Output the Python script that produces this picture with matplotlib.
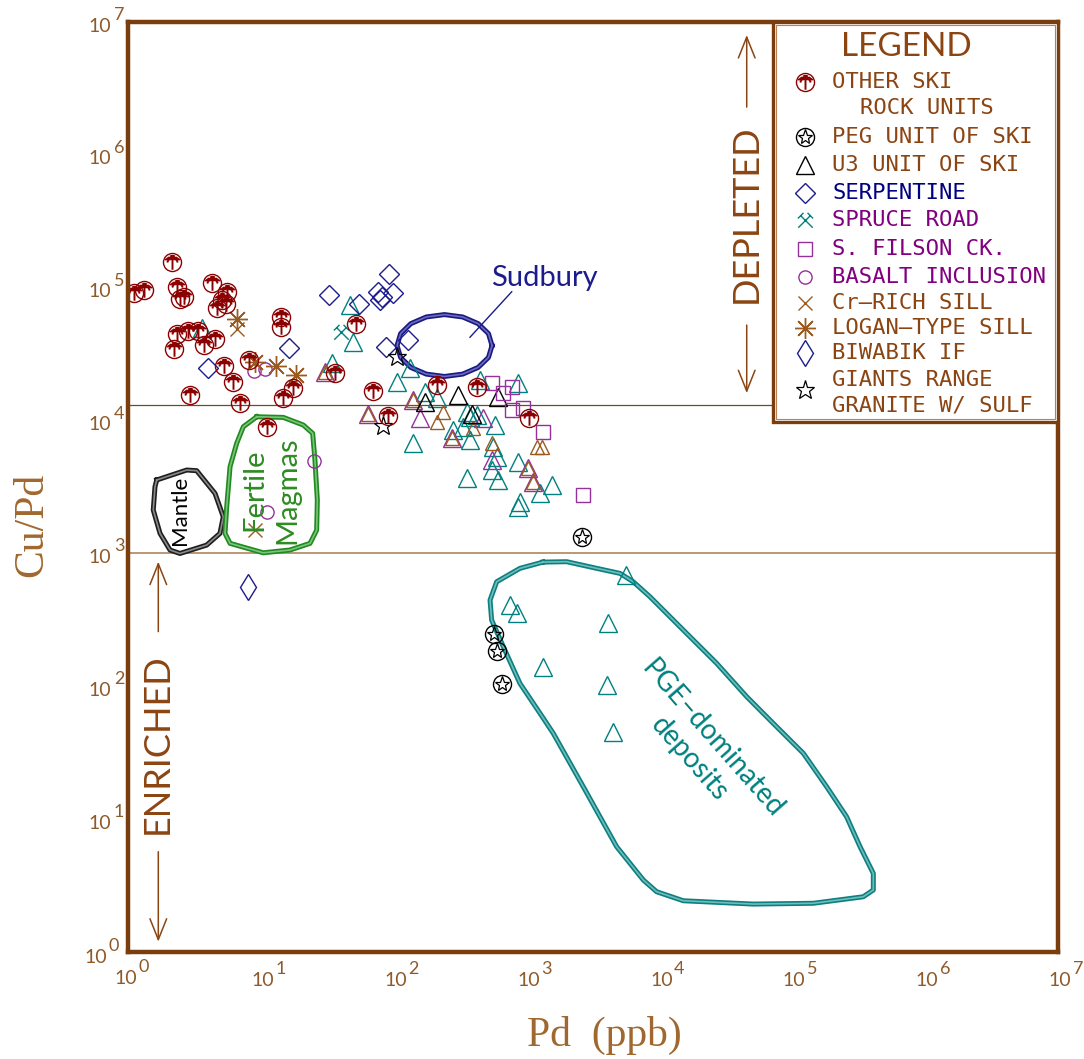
import numpy as np
import matplotlib
matplotlib.use("Agg")
import matplotlib.pyplot as plt
from matplotlib.path import Path
from matplotlib.patches import Rectangle

# -------------------------
# DATA  (Pd in ppb, Cu/Pd ratio)
# -------------------------
other_ski_pd = [2.13, 1.11, 1.32, 2.33, 2.46, 2.64, 4.27, 5.53, 4.70, 5.47, 5.10, 2.33,
                2.84, 3.38, 2.23, 3.75, 4.52, 14.2, 14.2, 8.19, 5.28, 6.21, 2.93, 6.97,
                14.6, 17.5, 36.1, 11.1, 52.0, 69.5, 91.0, 211, 422, 1050]
other_ski_cupd = [1.57e5, 9.08e4, 9.6e4, 1.01e5, 8.2e4, 8.5e4, 1.09e5, 9.3e4, 7.0e4, 7.6e4,
                  8.1e4, 4.49e4, 4.75e4, 4.75e4, 3.44e4, 3.71e4, 4.11e4, 5.99e4, 5.04e4,
                  2.86e4, 2.58e4, 1.96e4, 1.56e4, 1.35e4, 1.47e4, 1.75e4, 2.29e4, 9.0e3,
                  5.33e4, 1.68e4, 1.09e4, 1.85e4, 1.80e4, 1.04e4]

peg_pd = [2600, 571, 596, 650]
peg_cupd = [1336, 247, 185, 104]

u3_pd = [172, 306, 613, 386]
u3_cupd = [1.39e4, 1.56e4, 1.51e4, 1.13e4]

serp_pd = [32.6, 16.3, 4.02, 92.6, 55.1, 76.6, 81.2, 98.2, 78.9, 87.5, 129]
serp_cupd = [8.8e4, 3.50e4, 2.50e4, 1.27e5, 7.54e4, 9.3e4, 8.56e4, 9.18e4, 8.09e4, 3.56e4, 4.04e4]

spruce_pd = [39.9]
spruce_cupd = [4.67e4]

teal_tri_pd = [46.9, 49.6, 34.1, 105, 133, 172, 211, 446, 867, 354, 375, 421, 281, 334, 375,
               578, 140, 562, 596, 546, 354, 613, 867, 1262, 1545, 892, 867, 3.59,
               5574, 750, 841, 4124, 1336, 4009, 4498]
teal_tri_cupd = [7.41e4, 3.92e4, 2.70e4, 1.96e4, 2.47e4, 1.65e4, 1.47e4, 2.02e4, 1.91e4,
                 1.17e4, 1.07e4, 1.10e4, 8.49e3, 9.0e3, 7.14e3, 9.26e3, 6.75e3, 6.36e3,
                 5.35e3, 4.25e3, 3.68e3, 3.57e3, 4.90e3, 2.84e3, 3.27e3, 2.45e3, 2.25e3,
                 4.95e4, 689, 409, 354, 298, 140, 102, 45.5]

purple_tri_pd = [30.4, 64.4, 140, 158, 273, 472, 546, 1030, 1124]
purple_tri_cupd = [2.33e4, 1.13e4, 1.43e4, 1.04e4, 7.36e3, 1.04e4, 5.05e3, 4.37e3, 3.47e3]

brown_tri_pd = [30.4, 64.4, 140, 273, 1030, 1124, 211, 546, 236, 1192, 1300, 397]
brown_tri_cupd = [2.33e4, 1.13e4, 1.43e4, 7.36e3, 4.37e3, 3.47e3, 9.81e3, 6.75e3,
                  1.17e4, 6.36e3, 6.36e3, 8.75e3]

filson_pd = [546, 773, 668, 773, 945, 1322, 2644]
filson_cupd = [1.91e4, 1.78e4, 1.60e4, 1.20e4, 1.24e4, 8.25e3, 2.75e3]

basalt_pd = [8.93, 10.7, 25.1, 11.2]
basalt_cupd = [2.37e4, 2.43e4, 4.99e3, 2.04e3]

crsill_pd = [6.58, 9.03]
crsill_cupd = [4.86e4, 1.50e3]

logan_pd = [6.65, 9.03, 13.0, 18.3]
logan_cupd = [5.78e4, 2.77e4, 2.58e4, 2.20e4]

biwabik_pd = [8.04]
biwabik_cupd = [562]

giants_pd = [105, 82.6]
giants_cupd = [3.03e4, 9.15e3]

# reference levels of Cu/Pd
upper_ref = 1.3e4
lower_ref = 1.0e3

# field outlines (log10 Pd, log10 Cu/Pd)
mantle_lx = [0.216, 0.442, 0.517, 0.655, 0.717, 0.692, 0.592, 0.391, 0.316, 0.241, 0.190, 0.203]
mantle_ly = [3.553, 3.628, 3.623, 3.452, 3.276, 3.151, 3.063, 3.000, 3.026, 3.151, 3.327, 3.502]

fertile_lx = [0.969, 1.169, 1.319, 1.390, 1.407, 1.425, 1.420, 1.370, 1.219, 1.018, 0.768,
              0.730, 0.743, 0.768, 0.818, 0.868]
fertile_ly = [4.029, 4.024, 3.967, 3.904, 3.703, 3.402, 3.176, 3.076, 3.026, 3.005, 3.076,
              3.151, 3.352, 3.653, 3.829, 3.954]

sudbury_lx = [2.740, 2.713, 2.635, 2.519, 2.382, 2.245, 2.129, 2.052, 2.025, 2.052, 2.129,
              2.245, 2.382, 2.519, 2.635, 2.713]
sudbury_ly = [4.565, 4.655, 4.730, 4.780, 4.798, 4.780, 4.730, 4.655, 4.565, 4.475, 4.400,
              4.350, 4.332, 4.350, 4.400, 4.475]

pge_lx = [3.124, 3.302, 3.528, 3.703, 3.803, 3.929, 4.155, 4.431, 4.657, 4.857, 5.083, 5.259,
          5.409, 5.510, 5.610, 5.610, 5.534, 5.158, 4.706, 4.180, 3.979, 3.879, 3.678, 3.427,
          3.201, 3.101, 2.950, 2.825, 2.737, 2.725, 2.775, 2.950]
pge_ly = [2.935, 2.938, 2.888, 2.850, 2.787, 2.674, 2.448, 2.173, 1.922, 1.721, 1.496, 1.244,
          1.018, 0.793, 0.592, 0.467, 0.416, 0.367, 0.361, 0.386, 0.454, 0.542, 0.793, 1.244,
          1.646, 1.797, 2.022, 2.298, 2.499, 2.649, 2.787, 2.888]

decades = [0, 1, 2, 3, 4, 5, 6, 7]

legend_labels = ["OTHER SKI", "PEG UNIT OF SKI", "U3 UNIT OF SKI", "SERPENTINE",
                 "SPRUCE ROAD", "S. FILSON CK.", "BASALT INCLUSION", "Cr\u2013RICH SILL",
                 "LOGAN\u2013TYPE SILL", "BIWABIK IF", "GIANTS RANGE"]

# -------------------------
# COLOURS / MARKERS
# -------------------------
BROWN = "#8B4513"
FRAME = "#7A3E0E"
TICKC = "#8E5A2A"
LABELC = "#A0682F"
MAROON = "#8B0000"
NAVY = "#1C1C8C"
TEAL = "#008080"
PURPLE = "#96309A"
PURPLE_TXT = "#800080"
GREEN = "#2E8B22"

palm = Path(
    [(0, -0.9), (0, 0.4),
     (0, 0.45), (-0.45, 0.62), (-0.9, 0.3),
     (0, 0.45), (0.45, 0.62), (0.9, 0.3),
     (0, 0.45), (-0.5, 0.35), (-0.65, 0.0),
     (0, 0.45), (0.5, 0.35), (0.65, 0.0),
     (0, 0.45), (-0.25, 0.9),
     (0, 0.45), (0.25, 0.9),
     (0, 0.45), (0, 0.95)],
    [Path.MOVETO, Path.LINETO,
     Path.MOVETO, Path.LINETO, Path.LINETO,
     Path.MOVETO, Path.LINETO, Path.LINETO,
     Path.MOVETO, Path.LINETO, Path.LINETO,
     Path.MOVETO, Path.LINETO, Path.LINETO,
     Path.MOVETO, Path.LINETO,
     Path.MOVETO, Path.LINETO,
     Path.MOVETO, Path.LINETO])

hammers = Path(
    [(-0.9, -0.9), (0.6, 0.6), (0.25, 0.95), (0.95, 0.25),
     (0.9, -0.9), (-0.6, 0.6), (-0.25, 0.95), (-0.95, 0.25)],
    [Path.MOVETO, Path.LINETO, Path.MOVETO, Path.LINETO,
     Path.MOVETO, Path.LINETO, Path.MOVETO, Path.LINETO])

SANS = ["Lato", "DejaVu Sans"]
MONO = ["DejaVu Sans Mono"]
SERIF = ["Liberation Serif", "DejaVu Serif"]


def draw_palm(ax, x, y, **kw):
    ax.plot(x, y, ls="none", marker="o", ms=13, mfc="none", mec=MAROON, mew=1.0, **kw)
    ax.plot(x, y, ls="none", marker=palm, ms=11, mfc="none", mec=MAROON, mew=1.4, **kw)


def draw_peg(ax, x, y, **kw):
    ax.plot(x, y, ls="none", marker="o", ms=13, mfc="none", mec="black", mew=1.0, **kw)
    ax.plot(x, y, ls="none", marker="*", ms=11, mfc="none", mec="black", mew=0.9, **kw)


def draw_outline(ax, lx, ly, dark, light):
    xs = np.power(10.0, lx + lx[:1])
    ys = np.power(10.0, ly + ly[:1])
    ax.plot(xs, ys, color=dark, lw=3.6, solid_joinstyle="round", zorder=2)
    ax.plot(xs, ys, color=light, lw=1.2, solid_joinstyle="round", zorder=2)


fig = plt.figure(figsize=(10.84, 10.59), dpi=100)
ax = fig.add_axes([0.1181, 0.1010, 0.8579, 0.8782])
ax.set_xscale("log")
ax.set_yscale("log")
ax.set_xlim(1, 1e7)
ax.set_ylim(1, 1e7)
ax.set_xticks([])
ax.set_yticks([])
ax.minorticks_off()
ax.tick_params(which="both", length=0)
for sp in ax.spines.values():
    sp.set_color(FRAME)
    sp.set_linewidth(3.2)

# reference lines
ax.axhline(upper_ref, color="#6E4A2A", lw=0.9, zorder=1)
ax.axhline(lower_ref, color="#A87A50", lw=1.1, zorder=1)

# -------------------------
# FIELDS
# -------------------------
draw_outline(ax, mantle_lx, mantle_ly, "#1E1E1E", "#8A8A8A")
draw_outline(ax, fertile_lx, fertile_ly, "#1F8A1F", "#7CC47C")
draw_outline(ax, sudbury_lx, sudbury_ly, "#1A1A80", "#6A6AC0")
draw_outline(ax, pge_lx, pge_ly, "#0E7F7F", "#6FBDBD")

ax.text(2.46, 2123, "Mantle", rotation=90, ha="center", va="center", fontsize=16,
        color="black", family=SANS)
ax.text(11.9, 3000, "Fertile\nMagmas", rotation=90, ha="center", va="center", fontsize=21,
        color=GREEN, family=SANS, linespacing=1.35, multialignment="center")
ax.text(1352, 1.18e5, "Sudbury", ha="center", va="center", fontsize=21, color=NAVY,
        family=SANS)
ax.plot([773, 375], [9.33e4, 4.24e4], color=NAVY, lw=1.0)
ax.text(20560, 33.7, "PGE\u2013dominated\ndeposits", rotation=-48.7, rotation_mode="anchor",
        ha="center", va="center", fontsize=20, color=TEAL, family=SANS,
        linespacing=1.2, multialignment="center")

# -------------------------
# POINTS
# -------------------------
ax.plot(teal_tri_pd, teal_tri_cupd, ls="none", marker="^", ms=13, mfc="none", mec=TEAL, mew=1.0)
ax.plot(purple_tri_pd, purple_tri_cupd, ls="none", marker="^", ms=13, mfc="none", mec=PURPLE, mew=1.0)
ax.plot(brown_tri_pd, brown_tri_cupd, ls="none", marker="^", ms=10, mfc="none", mec="#9A5A20", mew=1.0)
ax.plot(u3_pd, u3_cupd, ls="none", marker="^", ms=13, mfc="none", mec="black", mew=1.0)
ax.plot(serp_pd, serp_cupd, ls="none", marker="D", ms=10, mfc="none", mec=NAVY, mew=1.0)
ax.plot(spruce_pd, spruce_cupd, ls="none", marker=hammers, ms=11, mfc="none", mec=TEAL, mew=1.0)
ax.plot(filson_pd, filson_cupd, ls="none", marker="s", ms=9.5, mfc="none", mec=PURPLE, mew=1.0)
ax.plot(basalt_pd, basalt_cupd, ls="none", marker="o", ms=9.5, mfc="none", mec=PURPLE, mew=1.0)
ax.plot(crsill_pd, crsill_cupd, ls="none", marker="x", ms=10, mfc="none", mec="#9A5A20", mew=1.0)
ax.plot(logan_pd, logan_cupd, ls="none", marker=(8, 2, 0), ms=15, mec="#9A5A20", mew=1.0)
ax.plot(biwabik_pd, biwabik_cupd, ls="none", marker="d", ms=13, mfc="none", mec=NAVY, mew=1.0)
ax.plot(giants_pd, giants_cupd, ls="none", marker="*", ms=14, mfc="none", mec="black", mew=0.9)
draw_palm(ax, other_ski_pd, other_ski_cupd)
draw_peg(ax, peg_pd, peg_cupd)

# -------------------------
# DEPLETED / ENRICHED
# -------------------------
arrow = dict(arrowstyle="->,head_length=1.5,head_width=0.6", color=BROWN, lw=1.1,
             shrinkA=0, shrinkB=0, mutation_scale=10)
ax.annotate("", xy=(45400, 7.98e6), xytext=(45400, 2.29e6), arrowprops=arrow)
ax.annotate("", xy=(45400, 1.61e4), xytext=(45400, 5.24e4), arrowprops=arrow)
ax.text(45400, 3.61e5, "DEPLETED", rotation=90, ha="center", va="center", fontsize=26,
        color=BROWN, family=SANS)
ax.annotate("", xy=(1.69, 867), xytext=(1.69, 258), arrowprops=arrow)
ax.annotate("", xy=(1.69, 1.197), xytext=(1.69, 5.69), arrowprops=arrow)
ax.text(1.667, 37.0, "ENRICHED", rotation=90, ha="center", va="center", fontsize=26,
        color=BROWN, family=SANS)

# -------------------------
# LEGEND (drawn by hand, like the original)
# -------------------------
ax.add_patch(Rectangle((0.6935, 0.5699), 0.3065, 0.4301, transform=ax.transAxes,
                       facecolor="white", edgecolor=FRAME, lw=2.4, zorder=5))
ax.add_patch(Rectangle((0.6965, 0.5735), 0.3005, 0.4235, transform=ax.transAxes,
                       facecolor="none", edgecolor="#B98050", lw=0.8, zorder=5))
ax.text(0.8373, 0.9734, "LEGEND", transform=ax.transAxes, ha="center", va="center",
        fontsize=24, color=BROWN, family=SANS, zorder=6)

mx = 0.728
tx = 0.757
rows = [0.9358, 0.8767, 0.8462, 0.8165, 0.7871, 0.7559, 0.7258, 0.6978, 0.6710, 0.6441, 0.6151]
txt_colors = [BROWN, BROWN, BROWN, "#000080", PURPLE_TXT, PURPLE_TXT, PURPLE_TXT,
              BROWN, BROWN, BROWN, BROWN]
for lab, ry, c in zip(legend_labels, rows, txt_colors):
    ax.text(tx, ry, lab, transform=ax.transAxes, ha="left", va="center", fontsize=16,
            color=c, family=MONO, zorder=6)
ax.text(0.787, 0.9075, "ROCK UNITS", transform=ax.transAxes, ha="left", va="center",
        fontsize=16, color=BROWN, family=MONO, zorder=6)
ax.text(tx, 0.5882, "GRANITE W/ SULF", transform=ax.transAxes, ha="left", va="center",
        fontsize=16, color=BROWN, family=MONO, zorder=6)

lk = dict(transform=ax.transAxes, zorder=6, clip_on=False)
draw_palm(ax, [mx], [rows[0]], **lk)
draw_peg(ax, [mx], [rows[1]], **lk)
ax.plot([mx], [rows[2]], ls="none", marker="^", ms=13, mfc="none", mec="black", mew=1.0, **lk)
ax.plot([mx], [rows[3]], ls="none", marker="D", ms=10, mfc="none", mec=NAVY, mew=1.0, **lk)
ax.plot([mx], [rows[4]], ls="none", marker=hammers, ms=11, mfc="none", mec=TEAL, mew=1.0, **lk)
ax.plot([mx], [rows[5]], ls="none", marker="s", ms=9.5, mfc="none", mec=PURPLE, mew=1.0, **lk)
ax.plot([mx], [rows[6]], ls="none", marker="o", ms=9.5, mfc="none", mec=PURPLE, mew=1.0, **lk)
ax.plot([mx], [rows[7]], ls="none", marker="x", ms=10, mec="#9A5A20", mew=1.0, **lk)
ax.plot([mx], [rows[8]], ls="none", marker=(8, 2, 0), ms=15, mec="#9A5A20", mew=1.0, **lk)
ax.plot([mx], [rows[9]], ls="none", marker="d", ms=13, mfc="none", mec=NAVY, mew=1.0, **lk)
ax.plot([mx], [0.6043], ls="none", marker="*", ms=14, mfc="none", mec="black", mew=0.9, **lk)

# -------------------------
# TICK LABELS  10^k
# -------------------------
for k in decades:
    v = 10.0 ** k
    base_off = (-2, -26) if k == 0 else (2, -28)
    exp_off = (16, -15) if k == 0 else (20, -17)
    ax.annotate("10", xy=(v, 0), xycoords=("data", "axes fraction"), xytext=base_off,
                textcoords="offset pixels", ha="center", va="center", fontsize=14,
                color=TICKC, family=SANS, annotation_clip=False)
    ax.annotate(str(k), xy=(v, 0), xycoords=("data", "axes fraction"), xytext=exp_off,
                textcoords="offset pixels", ha="center", va="center", fontsize=13,
                color=TICKC, family=SANS, annotation_clip=False)
    base_off = (-32, -5) if k == 0 else (-28, -4)
    exp_off = (-14, 6) if k == 0 else (-9, 7)
    ax.annotate("10", xy=(0, v), xycoords=("axes fraction", "data"), xytext=base_off,
                textcoords="offset pixels", ha="center", va="center", fontsize=14,
                color=TICKC, family=SANS, annotation_clip=False)
    ax.annotate(str(k), xy=(0, v), xycoords=("axes fraction", "data"), xytext=exp_off,
                textcoords="offset pixels", ha="center", va="center", fontsize=13,
                color=TICKC, family=SANS, annotation_clip=False)

fig.text(32 / 1084, 1 - 525 / 1059, "Cu/Pd", rotation=90, ha="center", va="center",
         fontsize=30, color=LABELC, family=SERIF)
fig.text(604 / 1084, 1 - 1035 / 1059, "Pd  (ppb)", ha="center", va="center",
         fontsize=30, color=LABELC, family=SERIF)

fig.savefig("out.png", dpi=100, facecolor="white")
